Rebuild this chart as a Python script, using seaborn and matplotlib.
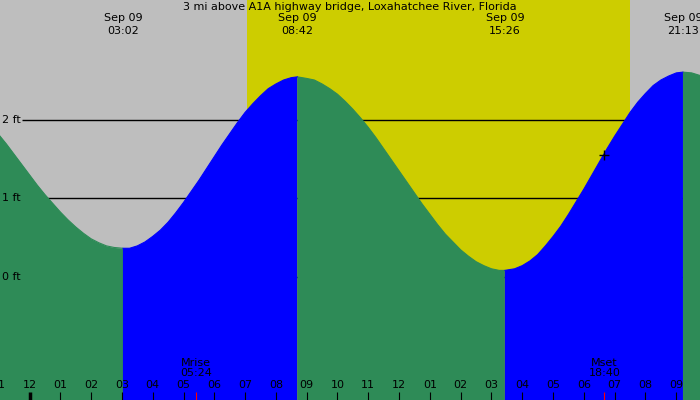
import matplotlib
matplotlib.use("Agg")
import matplotlib.pyplot as plt
import matplotlib.transforms as mtransforms
import pandas as pd
import seaborn as sns

# tide height (ft), hours from midnight Sep 09
tide_times = [-1.0, -0.75, -0.5, -0.25, 0.0, 0.25, 0.5, 0.75, 1.0, 1.25, 1.5,
              1.75, 2.0, 2.25, 2.5, 2.75, 3.033, 3.25, 3.5, 3.75, 4.0, 4.25,
              4.5, 4.75, 5.0, 5.25, 5.5, 5.75, 6.0, 6.25, 6.5, 6.75, 7.0, 7.25,
              7.5, 7.75, 8.0, 8.25, 8.5, 8.7, 9.0, 9.25, 9.5, 9.75, 10.0,
              10.25, 10.5, 10.75, 11.0, 11.25, 11.5, 11.75, 12.0, 12.25, 12.5,
              12.75, 13.0, 13.25, 13.5, 13.75, 14.0, 14.25, 14.5, 14.75, 15.0,
              15.25, 15.433, 15.75, 16.0, 16.25, 16.5, 16.75, 17.0, 17.25,
              17.5, 17.75, 18.0, 18.25, 18.5, 18.75, 19.0, 19.25, 19.5, 19.75,
              20.0, 20.25, 20.5, 20.75, 21.0, 21.217, 21.5, 21.75, 22.0]
tide_heights = [1.81, 1.69, 1.56, 1.43, 1.30, 1.17, 1.05, 0.94, 0.83, 0.73,
                0.64, 0.56, 0.49, 0.44, 0.40, 0.38, 0.37, 0.37, 0.40, 0.45,
                0.52, 0.60, 0.70, 0.82, 0.95, 1.09, 1.23, 1.38, 1.53, 1.68,
                1.82, 1.96, 2.09, 2.20, 2.30, 2.39, 2.45, 2.50, 2.53, 2.54,
                2.52, 2.50, 2.45, 2.39, 2.32, 2.23, 2.13, 2.02, 1.90, 1.77,
                1.63, 1.49, 1.35, 1.21, 1.07, 0.93, 0.80, 0.67, 0.55, 0.45,
                0.35, 0.27, 0.20, 0.15, 0.11, 0.09, 0.09, 0.11, 0.15, 0.21,
                0.29, 0.40, 0.52, 0.65, 0.80, 0.96, 1.12, 1.29, 1.46, 1.63,
                1.79, 1.94, 2.09, 2.22, 2.33, 2.43, 2.50, 2.55, 2.59, 2.60,
                2.59, 2.56, 2.52]

# high / low tides
extreme_times = [3.033, 8.70, 15.433, 21.217]
extreme_dates = ["Sep 09", "Sep 09", "Sep 09", "Sep 09"]
extreme_labels = ["03:02", "08:42", "15:26", "21:13"]
first_is_low = True

sunrise = 7.06
sunset = 19.5

moon_times = [5.4, 18.667]
moon_labels = ["Mrise\n05:24", "Mset\n18:40"]
marker_time = 18.667
marker_height = 1.55

level_ticks = [0, 1, 2]
level_labels = ["0 ft", "1 ft", "2 ft"]

hour_ticks = list(range(-1, 22))
hour_labels = ["11", "12", "01", "02", "03", "04", "05", "06", "07", "08",
               "09", "10", "11", "12", "01", "02", "03", "04", "05", "06",
               "07", "08", "09"]

title = "3 mi above A1A highway bridge, Loxahatchee River, Florida"

GRAY = "#bebebe"
YELLOW = "#cdcd00"
GREEN = "#2e8b57"
BLUE = "#0000ff"

sns.set_style("white")
plt.rcParams["font.family"] = ["DejaVu Sans"]
plt.rcParams["text.color"] = "black"

x0, x1 = -0.958, 21.77
y0, y1 = -1.551, 3.513

fig = plt.figure(figsize=(7, 4), dpi=100)
ax = fig.add_axes([0, 0, 1, 1])
ax.set_xlim(x0, x1)
ax.set_ylim(y0, y1)
ax.set_facecolor(GRAY)
ax.axvspan(sunrise, sunset, color=YELLOW, lw=0, zorder=0)

# level lines (hidden under the water)
ax.hlines(level_ticks, -0.24, x1, color="black", lw=1.0, zorder=1)

# split curve into rising / falling pieces at the extremes
df = pd.DataFrame({"t": tide_times, "h": tide_heights})
bounds = [x0 - 1] + extreme_times + [x1 + 1]
pieces = []
for i in range(len(bounds) - 1):
    sub = df[(df.t >= bounds[i]) & (df.t <= bounds[i + 1])].copy()
    rising = (i % 2 == 1) if first_is_low else (i % 2 == 0)
    sub["phase"] = "rising" if rising else "falling"
    sub["seg"] = i
    pieces.append(sub)
    ax.fill_between(sub.t, sub.h, y0 - 1, color=BLUE if rising else GREEN,
                    lw=0, zorder=2)
curve = pd.concat(pieces, ignore_index=True)

sns.lineplot(data=curve, x="t", y="h", hue="phase", units="seg",
             estimator=None, palette={"rising": BLUE, "falling": GREEN},
             lw=0.8, legend=False, ax=ax, zorder=3)

ax.plot([marker_time], [marker_height], marker="+", color="black",
        ms=7, mew=1, zorder=4)

xa = mtransforms.blended_transform_factory(ax.transData, ax.transAxes)
ya = mtransforms.blended_transform_factory(ax.transAxes, ax.transData)

ax.text(0.5, 1 - 7.5 / 400, title, transform=ax.transAxes, ha="center",
        va="center", fontsize=8, zorder=5)

for t, d, lab in zip(extreme_times, extreme_dates, extreme_labels):
    ax.text(t, 1 - 18 / 400, d, transform=xa, ha="center", va="center",
            fontsize=8, zorder=5)
    ax.text(t, 1 - 31 / 400, lab, transform=xa, ha="center", va="center",
            fontsize=8, zorder=5)

for lv, lab in zip(level_ticks, level_labels):
    ax.text(2 / 700, lv, lab, transform=ya, ha="left", va="center",
            fontsize=8, zorder=5)

# hour ticks along the bottom
for h, lab in zip(hour_ticks, hour_labels):
    ax.vlines(h, 0, 8 / 400, transform=xa, color="black",
              lw=2.5 if h == 0 else 0.8, zorder=5)
    ax.text(h, 15 / 400, lab, transform=xa, ha="center", va="center",
            fontsize=8, zorder=5)

for t, lab in zip(moon_times, moon_labels):
    ax.vlines(t, 0, 8 / 400, transform=xa, color="red", lw=0.8, zorder=5)
    ax.text(t, 32 / 400, lab, transform=xa, ha="center", va="center",
            fontsize=8, linespacing=1.0, zorder=5)

ax.set_xticks([])
ax.set_yticks([])
ax.set_xlabel("")
ax.set_ylabel("")
for s in ax.spines.values():
    s.set_visible(False)

fig.savefig("out.png", dpi=100)
